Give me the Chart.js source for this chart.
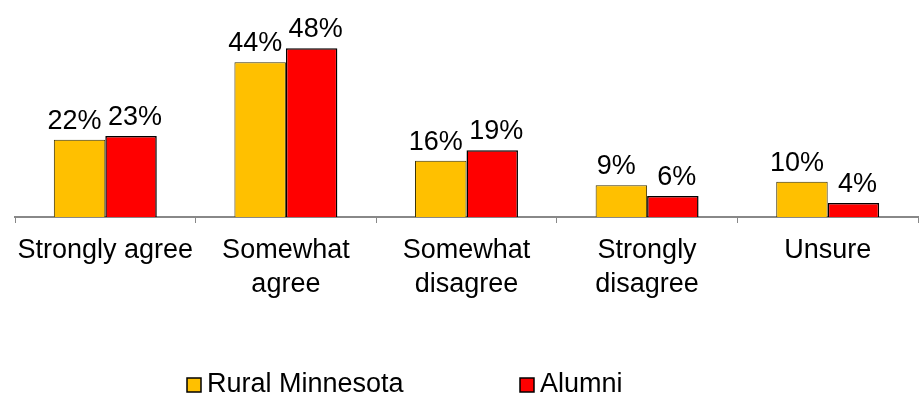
<!DOCTYPE html>
<html>
<head>
<meta charset="utf-8">
<script src="https://cdn.jsdelivr.net/npm/chart.js@4/dist/chart.umd.min.js"></script>
<style>
html,body{margin:0;padding:0;background:#fff;}
#wrap{width:924px;height:404px;position:relative;}
</style>
</head>
<body>
<div id="wrap"><canvas id="c" width="924" height="404"></canvas></div>
<script>
const categories = [["Strongly agree"], ["Somewhat", "agree"], ["Somewhat", "disagree"], ["Strongly", "disagree"], ["Unsure"]];
const seriesNames = ["Rural Minnesota", "Alumni"];
const ruralValues = [22, 44, 16, 9, 10];
const alumniValues = [23, 48, 19, 6, 4];

const FONT = "'Liberation Sans', Arial, sans-serif";

const dataLabels = {
  id: 'dataLabels',
  afterDatasetsDraw(chart) {
    const ctx = chart.ctx;
    ctx.save();
    ctx.font = '27px ' + FONT;
    ctx.fillStyle = '#000';
    ctx.textAlign = 'center';
    ctx.textBaseline = 'alphabetic';
    chart.data.datasets.forEach((ds, di) => {
      const meta = chart.getDatasetMeta(di);
      meta.data.forEach((bar, i) => {
        const dx = di === 0 ? -5 : 4;
        ctx.fillText(ds.data[i] + '%', bar.x + dx, bar.y - 11);
      });
    });
    ctx.restore();
  }
};

const customLegend = {
  id: 'customLegend',
  afterDraw(chart) {
    const ctx = chart.ctx;
    ctx.save();
    ctx.font = '27px ' + FONT;
    ctx.textBaseline = 'alphabetic';
    ctx.textAlign = 'left';
    const xs = [187, 520];
    chart.data.datasets.forEach((ds, di) => {
      const x = xs[di];
      ctx.fillStyle = ds.backgroundColor;
      ctx.fillRect(x, 378, 14, 14);
      ctx.strokeStyle = '#000';
      ctx.lineWidth = 1.5;
      ctx.strokeRect(x, 378, 14, 14);
      ctx.fillStyle = '#000';
      ctx.fillText(ds.label, x + 20, 392);
    });
    ctx.restore();
  }
};

new Chart(document.getElementById('c'), {
  type: 'bar',
  data: {
    labels: categories,
    datasets: [
      { label: seriesNames[0], data: ruralValues, backgroundColor: '#FFC000', borderColor: '#3a3000', borderWidth: 1 },
      { label: seriesNames[1], data: alumniValues, backgroundColor: '#FF0000', borderColor: '#000', borderWidth: 1.5 }
    ]
  },
  options: {
    responsive: false,
    animation: false,
    devicePixelRatio: 1,
    layout: { padding: { left: 15, right: 6, top: 6, bottom: 67 } },
    plugins: { legend: { display: false }, tooltip: { enabled: false } },
    datasets: { bar: { categoryPercentage: 0.57, barPercentage: 1 } },
    scales: {
      y: { display: false, min: 0, max: 60 },
      x: {
        afterFit(scale) { scale.height = 120; },
        grid: { display: true, drawOnChartArea: false, drawTicks: true, tickLength: 6, color: '#888', offset: true },
        border: { display: true, color: '#888', width: 2 },
        ticks: { color: '#000', font: { family: FONT, size: 27, lineHeight: 1.26 }, padding: 11, maxRotation: 0, autoSkip: false }
      }
    }
  },
  plugins: [dataLabels, customLegend]
});
</script>
</body>
</html>
